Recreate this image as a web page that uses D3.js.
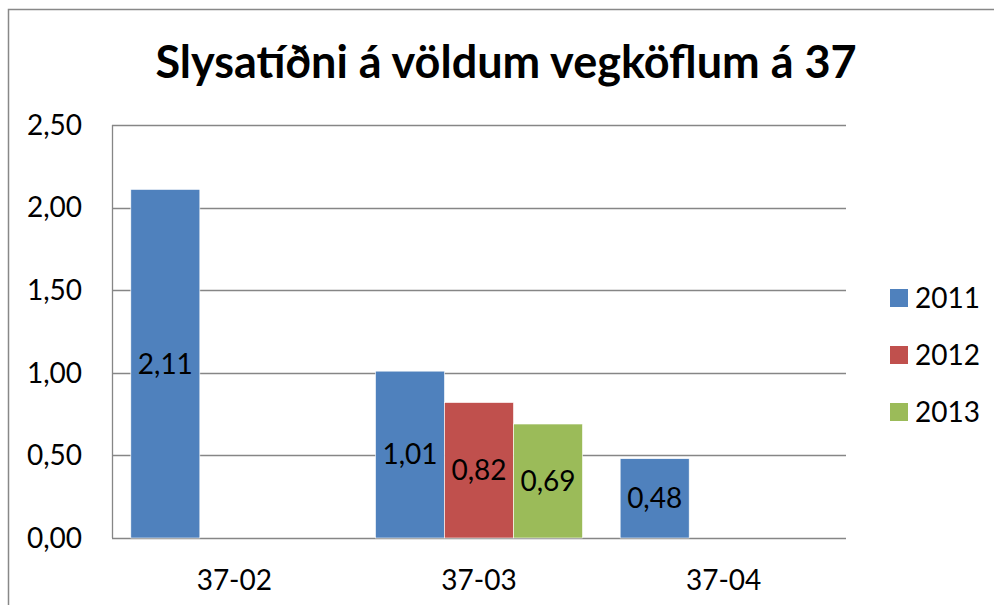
<!DOCTYPE html>
<html>
<head>
<meta charset="utf-8">
<script src="https://cdn.jsdelivr.net/npm/d3@7"></script>
<style>
  body { margin: 0; background: #fff; }
  svg { display: block; font-family: Lato, "Open Sans", sans-serif; }
</style>
</head>
<body>
<div id="chart"></div>
<script>
var title = "Slysatíðni á völdum vegköflum á 37";
var categories = ["37-02", "37-03", "37-04"];
var years = ["2011", "2012", "2013"];
var colors = ["#4f81bd", "#c0504d", "#9bbb59"];
// null = no bar
var v2011 = [2.11, 1.01, 0.48];
var v2012 = [null, 0.82, null];
var v2013 = [null, 0.69, null];
var yTicks = [0, 0.5, 1, 1.5, 2, 2.5];

var series = [v2011, v2012, v2013];

var width = 994, height = 605;
var plotLeft = 112, plotRight = 846, plotTop = 125, plotBottom = 538;

var svg = d3.select("#chart").append("svg")
    .attr("width", width)
    .attr("height", height);

// chart area border
svg.append("rect")
    .attr("x", 8.5).attr("y", 9.5)
    .attr("width", 1000).attr("height", 700)
    .style("fill", "#fff")
    .style("stroke", "#888")
    .style("stroke-width", 1.5);

var fmt = v => d3.format(".2f")(v).replace(".", ",");

/* Scales */
var x0 = d3.scaleBand().domain(categories).range([plotLeft, plotRight]).paddingInner(0).paddingOuter(0);
var x1 = d3.scaleBand().domain(years).range([0, x0.bandwidth()]).paddingInner(0).paddingOuter(0.273);
var y = d3.scaleLinear().domain([0, 2.5]).range([plotBottom, plotTop]);

// gridlines
svg.append("g").selectAll("line")
    .data(yTicks).enter()
    .append("line")
    .attr("x1", plotLeft).attr("x2", plotRight)
    .attr("y1", d => Math.round(y(d)) + 0.5)
    .attr("y2", d => Math.round(y(d)) + 0.5)
    .style("stroke", "#868686")
    .style("stroke-width", 1.3);

// y axis line
svg.append("line")
    .attr("x1", plotLeft + 0.5).attr("x2", plotLeft + 0.5)
    .attr("y1", plotTop).attr("y2", plotBottom)
    .style("stroke", "#868686")
    .style("stroke-width", 1.3);

// y labels
svg.append("g").selectAll("text")
    .data(yTicks).enter()
    .append("text")
    .attr("x", 82)
    .attr("y", d => y(d))
    .attr("dy", "0.35em")
    .attr("text-anchor", "end")
    .style("font-size", "28px")
    .text(d => fmt(d));

// bars
var bars = [];
series.forEach((s, si) => {
    s.forEach((v, ci) => {
        if (v != null) bars.push({ cat: categories[ci], year: years[si], value: v, color: colors[si] });
    });
});

var g = svg.append("g");
g.selectAll("rect")
    .data(bars).enter()
    .append("rect")
    .attr("x", d => x0(d.cat) + x1(d.year))
    .attr("y", d => y(d.value))
    .attr("width", x1.bandwidth())
    .attr("height", d => plotBottom - y(d.value))
    .style("fill", d => d.color)
    .style("stroke", "#fff")
    .style("stroke-width", 0.6);

g.selectAll("text")
    .data(bars).enter()
    .append("text")
    .attr("x", d => x0(d.cat) + x1(d.year) + x1.bandwidth() / 2)
    .attr("y", d => (y(d.value) + plotBottom) / 2)
    .attr("dy", "0.35em")
    .attr("text-anchor", "middle")
    .style("font-size", "28px")
    .text(d => fmt(d.value));

// x labels
svg.append("g").selectAll("text")
    .data(categories).enter()
    .append("text")
    .attr("x", d => x0(d) + x0.bandwidth() / 2)
    .attr("y", 580)
    .attr("dy", "0.35em")
    .attr("text-anchor", "middle")
    .style("font-size", "28px")
    .text(d => d);

// title
svg.append("text")
    .attr("x", 506)
    .attr("y", 62)
    .attr("dy", "0.35em")
    .attr("text-anchor", "middle")
    .style("font-size", "45px")
    .style("font-weight", "bold")
    .text(title);

// legend
var legend = svg.append("g").selectAll("g")
    .data(years).enter()
    .append("g")
    .attr("transform", (d, i) => `translate(890, ${298 + i * 57})`);
legend.append("rect")
    .attr("x", 0).attr("y", -9)
    .attr("width", 18).attr("height", 18)
    .style("fill", (d, i) => colors[i]);
legend.append("text")
    .attr("x", 25)
    .attr("y", 0)
    .attr("dy", "0.35em")
    .style("font-size", "28px")
    .text(d => d);
</script>
</body>
</html>
